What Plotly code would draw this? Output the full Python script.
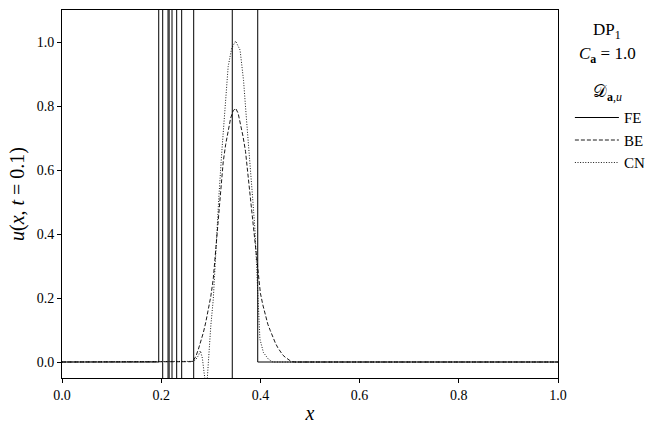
import plotly.graph_objects as go

# ---------------- data ----------------
# FE (forward Euler) blows up between x~0.195 and x~0.395 (values far outside the axis range)
x_fe = [0.0, 0.1950, 0.2030, 0.2138, 0.2160, 0.2218, 0.2312, 0.2413, 0.2655, 0.3433, 0.3946, 1.0]
u_fe = [0.0, 2.7e3, -3.4e3, 4.1e3, -4.6e3, 3.9e3, -3.2e3, 2.5e3, -1.8e3, 1.2e3, 0.0, 0.0]

# BE (backward Euler)
x_be = [0.0, 0.25, 0.26, 0.265, 0.27, 0.275, 0.28, 0.285, 0.29, 0.295, 0.30, 0.305, 0.31,
        0.315, 0.32, 0.325, 0.33, 0.335, 0.34, 0.345, 0.35, 0.355, 0.36, 0.365, 0.37,
        0.375, 0.38, 0.385, 0.39, 0.395, 0.40, 0.405, 0.41, 0.415, 0.42, 0.425, 0.43,
        0.435, 0.44, 0.445, 0.45, 0.455, 0.46, 0.465, 0.47, 1.0]
u_be = [0.0, 0.0, 0.001, 0.005, 0.018, 0.040, 0.063, 0.092, 0.125, 0.163, 0.205, 0.26, 0.345,
        0.44, 0.54, 0.625, 0.68, 0.725, 0.762, 0.785, 0.793, 0.778, 0.745, 0.705, 0.658,
        0.585, 0.50, 0.42, 0.345, 0.275, 0.215, 0.178, 0.145, 0.118, 0.098, 0.078, 0.060,
        0.045, 0.032, 0.022, 0.015, 0.008, 0.004, 0.001, 0.0, 0.0]

# CN (Crank-Nicolson)
x_cn = [0.0, 0.26, 0.265, 0.27, 0.275, 0.279, 0.283, 0.287, 0.29, 0.293, 0.296, 0.30,
        0.305, 0.31, 0.316, 0.322, 0.329, 0.335, 0.342, 0.35, 0.359, 0.366, 0.372, 0.379,
        0.384, 0.389, 0.393, 0.396, 0.399, 0.406, 0.416, 0.425, 1.0]
u_cn = [0.0, 0.0, 0.002, 0.008, 0.020, 0.035, 0.012, -0.040, -0.070, -0.050, 0.030, 0.113,
        0.196, 0.35, 0.51, 0.653, 0.81, 0.923, 0.98, 1.003, 0.975, 0.88, 0.757, 0.632,
        0.52, 0.414, 0.259, 0.155, 0.072, 0.030, 0.009, 0.0, 0.0]

x_ticks = [0.0, 0.2, 0.4, 0.6, 0.8, 1.0]
y_ticks = [0.0, 0.2, 0.4, 0.6, 0.8, 1.0]

SERIF = "Liberation Serif, DejaVu Serif, serif"

fig = go.Figure()
fig.add_trace(go.Scatter(x=x_fe, y=u_fe, mode="lines", name="FE", legendgroup="fe",
                         line=dict(color="black", width=1, shape="hv")))
fig.add_trace(go.Scatter(x=x_be, y=u_be, mode="lines", name="BE", legendgroup="be",
                         line=dict(color="black", width=0.9, dash="4px,2px")))
fig.add_trace(go.Scatter(x=x_cn, y=u_cn, mode="lines", name="CN", legendgroup="cn",
                         line=dict(color="black", width=0.9, dash="1px,1.6px")))

axis_common = dict(showline=True, linecolor="black", linewidth=1, mirror=True,
                   showgrid=False, zeroline=False, ticks="outside", ticklen=4,
                   tickcolor="black", tickwidth=1, automargin=False,
                   tickfont=dict(family=SERIF, size=14, color="black"))

title_font = dict(family=SERIF, size=17, color="black")

fig.update_layout(
    width=661, height=434,
    margin=dict(l=62, r=103, t=10, b=56, autoexpand=False),
    plot_bgcolor="white", paper_bgcolor="white",
    font=dict(family=SERIF, color="black"),
    xaxis=dict(range=[0, 1], tickvals=x_ticks, ticktext=[f"{v:.1f}" for v in x_ticks],
               title=dict(text="<i>x</i>", font=dict(family=SERIF, size=20), standoff=4),
               **axis_common),
    yaxis=dict(range=[-0.05, 1.1], tickvals=y_ticks, ticktext=[f"{v:.1f}" for v in y_ticks],
               title=dict(text="<i>u</i>(<i>x</i>, <i>t</i> = 0.1)", font=dict(family=SERIF, size=20), standoff=6),
               **axis_common),
    legend=dict(x=1.024, xanchor="left", y=0.752, yanchor="top",
                bgcolor="rgba(0,0,0,0)", font=dict(family=SERIF, size=15),
                tracegroupgap=0, itemwidth=44),
    showlegend=True,
    annotations=[
        dict(text="DP<sub>1</sub>", x=1.099, y=0.942, xref="paper", yref="paper",
             xanchor="center", yanchor="middle", showarrow=False, font=title_font),
        dict(text="<i>C</i><sub><b>a</b></sub> = 1.0", x=1.099, y=0.878, xref="paper", yref="paper",
             xanchor="center", yanchor="middle", showarrow=False, font=title_font),
        dict(text="𝒟<sub><b>a</b>,<i>u</i></sub>", x=1.099, y=0.7745, xref="paper", yref="paper",
             xanchor="center", yanchor="middle", showarrow=False, font=title_font),
    ],
)

fig.write_html("out.html", config={"displayModeBar": False},
               post_script="document.body.style.margin='0';")
